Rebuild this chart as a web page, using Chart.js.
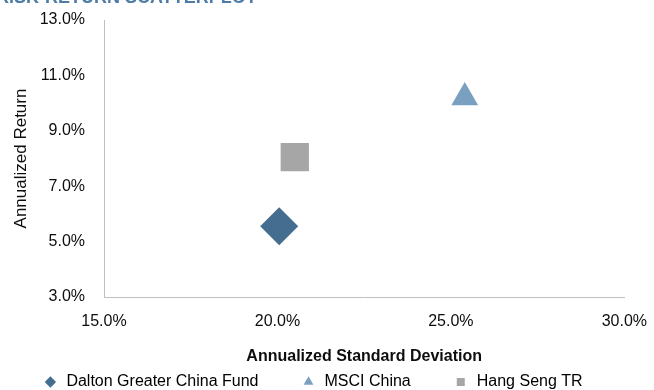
<!DOCTYPE html>
<html>
<head>
<meta charset="utf-8">
<script src="https://cdn.jsdelivr.net/npm/chart.js@4"></script>
<style>
  html, body { margin: 0; padding: 0; background: #fff; overflow: hidden; }
  #wrap { position: relative; width: 654px; height: 390px; overflow: hidden; }
  #title {
    position: absolute; left: -4px; top: -13px;
    font: bold 18px "Liberation Sans", Arial, sans-serif;
    color: #4f7ca6; white-space: nowrap;
  }
  canvas { position: absolute; left: 0; top: 0; }
</style>
</head>
<body>
<div id="wrap">
  <canvas id="riskChart" width="654" height="390"></canvas>
  <div id="title">RISK-RETURN SCATTERPLOT</div>
</div>
<script>
const seriesNames = ['Dalton Greater China Fund', 'MSCI China', 'Hang Seng TR'];
const stdDev = [20.05, 25.4, 20.5];      // annualized standard deviation (%)
const annReturn = [5.55, 10.2, 8.05];    // annualized return (%)
const markerStyles = ['rectRot', 'triangle', 'rect'];
const markerColors = ['#446d8f', '#7aa0c1', '#a6a6a6'];
const markerSizes = [19, 15.5, 20];
const xTicks = [15, 20, 25, 30];
const yTicks = [3, 5, 7, 9, 11, 13];

const fontFamily = '"Liberation Sans", Arial, sans-serif';

const initChart = () => {
    const ctx = document.getElementById('riskChart').getContext('2d');

    const datasets = seriesNames.map((name, i) => ({
        label: name,
        data: [{ x: stdDev[i], y: annReturn[i] }],
        pointStyle: markerStyles[i],
        pointRadius: markerSizes[i],
        pointHoverRadius: markerSizes[i],
        backgroundColor: markerColors[i],
        borderColor: markerColors[i],
        borderWidth: 0
    }));

    new Chart(ctx, {
        type: 'scatter',
        data: { datasets: datasets },
        options: {
            responsive: false,
            animation: false,
            layout: { padding: { top: 0, right: 29, left: 0, bottom: 0 } },
            plugins: {
                tooltip: { enabled: false },
                legend: {
                    position: 'bottom',
                    maxHeight: 58,
                    labels: {
                        usePointStyle: true,
                        boxHeight: 8,
                        padding: 42,
                        color: '#0d0d0d',
                        font: { family: fontFamily, size: 16 },
                        generateLabels: (chart) => chart.data.datasets.map((ds, i) => ({
                            text: ds.label,
                            fillStyle: ds.backgroundColor,
                            strokeStyle: ds.backgroundColor,
                            lineWidth: 0,
                            pointStyle: ds.pointStyle,
                            datasetIndex: i
                        }))
                    }
                }
            },
            scales: {
                x: {
                    type: 'linear',
                    min: xTicks[0],
                    max: xTicks[xTicks.length - 1],
                    afterBuildTicks: (scale) => { scale.ticks = xTicks.map(v => ({ value: v })); },
                    afterFit: (scale) => { scale.height = 35; },
                    grid: { display: false },
                    border: { display: true, color: '#bfbfbf', width: 1 },
                    ticks: {
                        padding: 7,
                        color: '#0d0d0d',
                        font: { family: fontFamily, size: 16 },
                        callback: (v) => v.toFixed(1) + '%'
                    },
                    title: {
                        display: true,
                        text: 'Annualized Standard Deviation',
                        color: '#0d0d0d',
                        font: { family: fontFamily, size: 16, weight: 'bold' },
                        padding: { top: 0, bottom: -34 }
                    }
                },
                y: {
                    type: 'linear',
                    min: yTicks[0],
                    max: yTicks[yTicks.length - 1],
                    afterBuildTicks: (scale) => { scale.ticks = yTicks.map(v => ({ value: v })); },
                    afterFit: (scale) => { scale.width = 104; },
                    grid: { display: false, tickLength: 12 },
                    border: { display: true, color: '#bfbfbf', width: 1 },
                    ticks: {
                        padding: 7,
                        color: '#0d0d0d',
                        font: { family: fontFamily, size: 16 },
                        callback: (v) => v.toFixed(1) + '%'
                    },
                    title: {
                        display: true,
                        text: 'Annualized Return',
                        color: '#0d0d0d',
                        font: { family: fontFamily, size: 17 },
                        padding: { top: 11, bottom: 0 }
                    }
                }
            }
        }
    });
};

initChart();
</script>
</body>
</html>
